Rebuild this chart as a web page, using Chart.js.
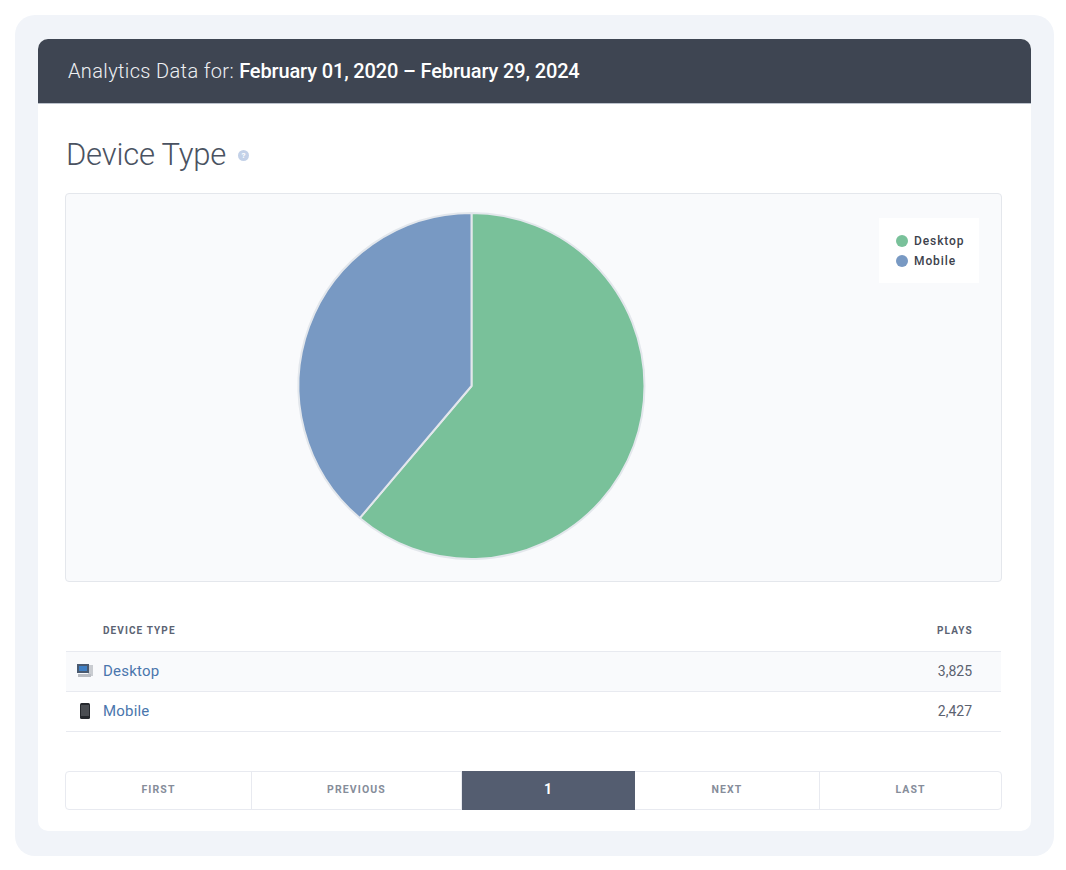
<!DOCTYPE html>
<html>
<head>
<meta charset="utf-8">
<script src="https://cdn.jsdelivr.net/npm/chart.js@4"></script>
<style>
  html, body { margin: 0; padding: 0; background: #fff; }
  body { width: 1066px; height: 870px; position: relative; overflow: hidden; font-family: Roboto, "Noto Sans", sans-serif; }
  .abs { position: absolute; white-space: nowrap; }
  #frame { left: 15px; top: 15px; width: 1039px; height: 841px; background: #f1f4f9; border-radius: 20px; }
  #card { left: 38px; top: 39px; width: 993px; height: 792px; background: #fff; border-radius: 10px; overflow: hidden; }
  #banner { left: 0; top: 0; width: 993px; height: 64px; background: #3e4552; border-bottom: 1px solid #bcc2cc; box-sizing: content-box; }
  #range { left: 68px; top: 59px; font-size: 20px; line-height: 25px; font-weight: 300; color: #eef0f3; letter-spacing: 0.36px; }
  #range b { font-weight: 500; color: #fff; letter-spacing: -0.14px; }
  #title { left: 66px; top: 136px; font-size: 31px; line-height: 38px; font-weight: 300; color: #4a5261; letter-spacing: -0.2px; }
  #help { left: 238px; top: 150px; width: 11px; height: 11px; border-radius: 50%; background: #c3d1e8; color: #fff; font-size: 8px; line-height: 11px; text-align: center; font-weight: 700; }
  #panel { left: 65px; top: 193px; width: 937px; height: 389px; box-sizing: border-box; background: #f9fafc; border: 1px solid #e4e7ec; border-radius: 4px; }
  #chart-box { position: absolute; left: 0; top: 0; width: 935px; height: 387px; }
  #legend { left: 879px; top: 218px; width: 100px; height: 65px; background: #fff; }
  .legend-row { position: absolute; left: 17px; font-size: 12px; line-height: 16px; font-weight: 500; color: #3d424c; letter-spacing: 0.9px; }
  .legend-dot { position: absolute; left: 0; top: 0; width: 12px; height: 12px; margin-top: 2px; border-radius: 50%; }
  .legend-row span { margin-left: 18px; }
  .head { font-size: 10px; line-height: 12px; font-weight: 700; color: #5b6373; letter-spacing: 1.1px; }
  .row { left: 66px; width: 935px; height: 41px; box-sizing: border-box; border-top: 1px solid #e8eaf0; border-bottom: 1px solid #e8eaf0; }
  .name { font-size: 15px; line-height: 20px; color: #4a76ad; letter-spacing: 0.2px; }
  .plays { font-size: 14px; line-height: 20px; color: #5b6270; text-align: right; width: 60px; left: 912px; }
  #pager { left: 65px; top: 771px; width: 937px; height: 39px; box-sizing: border-box; border: 1px solid #e8eaf0; border-radius: 4px; }
  .page { position: absolute; top: 0; height: 37px; line-height: 35px; text-align: center; font-size: 10.5px; font-weight: 700; color: #868d9a; letter-spacing: 1.1px; border-right: 1px solid #e8eaf0; box-sizing: border-box; }
  .page:last-child { border-right: 0; }
  .page.active { top: -1px; height: 39px; line-height: 37px; background: #545d70; color: #fff; font-size: 14px; border: 0; }
</style>
</head>
<body>
<div class="abs" id="frame"></div>
<div class="abs" id="card"><div class="abs" id="banner"></div></div>
<div class="abs" id="range">Analytics Data for: <b>February 01, 2020 – February 29, 2024</b></div>
<div class="abs" id="title">Device Type</div>
<div class="abs" id="help">?</div>
<div class="abs" id="panel"><div id="chart-box"><canvas id="pie"></canvas></div></div>
<div class="abs" id="legend"></div>
<div class="abs head" style="left:103px;top:625px">DEVICE TYPE</div>
<div class="abs head" style="left:937px;top:625px">PLAYS</div>
<div id="rows"></div>
<div class="abs" id="pager"></div>

<script>
const DEVICES = ['Desktop', 'Mobile'];
const PLAYS = [3825, 2427];
const SLICE_COLORS = ['#79c19a', '#7899c3'];
const PAGES = ['FIRST', 'PREVIOUS', '1', 'NEXT', 'LAST'];
const PAGE_WIDTHS = [186, 210, 173, 185, 181];

const ICONS = [
  '<svg width="16" height="14" viewBox="0 0 16 14"><rect x="11" y="1" width="5" height="11" fill="#c9ccd1"/><rect x="0" y="0" width="12" height="9" fill="#4a5a70"/><rect x="2" y="2" width="8" height="5" fill="#3f7fc4"/><rect x="1" y="10" width="13" height="3" fill="#b9bcc2"/></svg>',
  '<svg width="10" height="16" viewBox="0 0 10 16"><rect width="10" height="16" rx="1.5" fill="#25282d"/><rect x="1" y="2" width="8" height="11" fill="#4a4d52"/></svg>',
];
const ICON_POS = [[77, 664], [80, 703]];

// legend
const legendEl = document.getElementById('legend');
DEVICES.forEach((d, i) => {
  legendEl.innerHTML += `<div class="legend-row" style="top:${15 + i * 20}px">
    <div class="legend-dot" style="background:${SLICE_COLORS[i]}"></div><span>${d}</span></div>`;
});

// table rows
const rowsEl = document.getElementById('rows');
DEVICES.forEach((d, i) => {
  const top = 651 + i * 40;
  rowsEl.innerHTML += `
    <div class="abs row" style="top:${top}px;background:${i % 2 ? '#fff' : '#f9fafc'}"></div>
    <div class="abs" style="left:${ICON_POS[i][0]}px;top:${ICON_POS[i][1]}px;line-height:0">${ICONS[i]}</div>
    <div class="abs name" style="left:103px;top:${top + 10}px">${d}</div>
    <div class="abs plays" style="top:${top + 10}px">${PLAYS[i].toLocaleString('en-US')}</div>`;
});

// pager
const pagerEl = document.getElementById('pager');
let pageX = 0;
PAGES.forEach((p, i) => {
  const cls = p === '1' ? 'page active' : 'page';
  pagerEl.innerHTML += `<div class="${cls}" style="left:${pageX}px;width:${PAGE_WIDTHS[i]}px">${p}</div>`;
  pageX += PAGE_WIDTHS[i];
});

// pie
new Chart(document.getElementById('pie').getContext('2d'), {
  type: 'pie',
  data: {
    labels: DEVICES,
    datasets: [{
      data: PLAYS,
      backgroundColor: SLICE_COLORS,
      borderColor: '#e3e7ec',
      borderWidth: 2,
      hoverOffset: 0,
    }],
  },
  options: {
    responsive: true,
    maintainAspectRatio: false,
    animation: false,
    layout: { padding: { top: 18, bottom: 21, left: 0, right: 124 } },
    plugins: { legend: { display: false }, tooltip: { enabled: false } },
  },
});
</script>
</body>
</html>
